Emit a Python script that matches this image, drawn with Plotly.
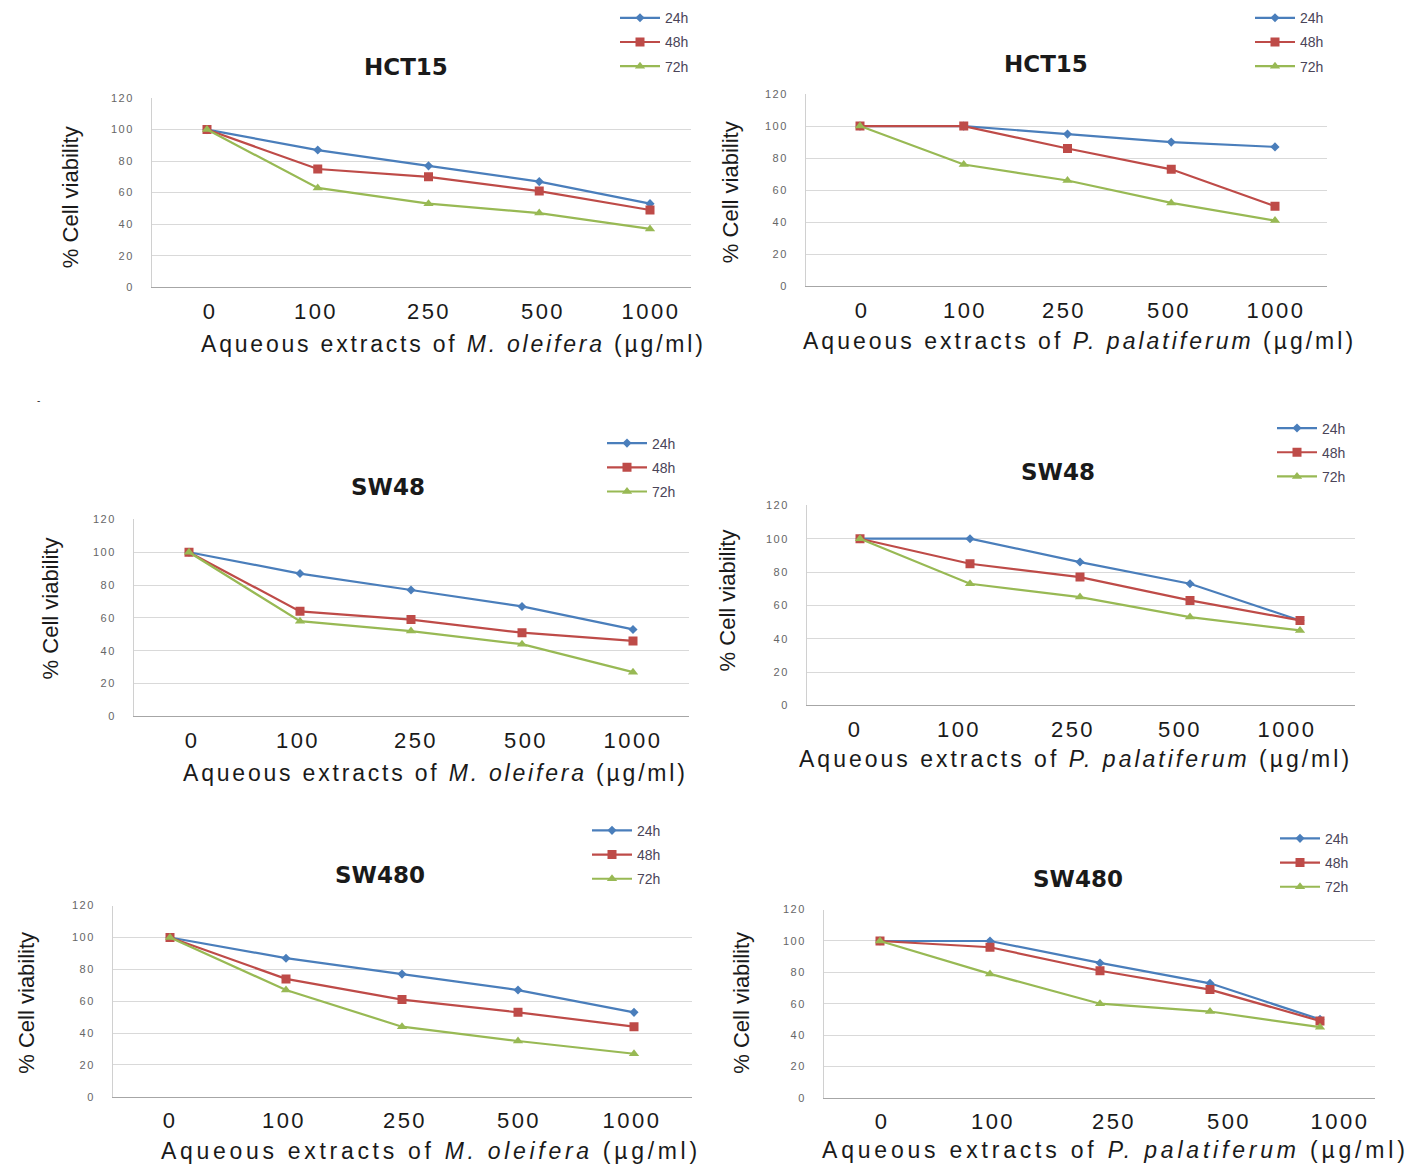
import plotly.graph_objects as go

W, H = 1413, 1164

# ---------------- data ----------------
doses = ["0", "100", "250", "500", "1000"]
series_names = ["24h", "48h", "72h"]
y_ticks = [0, 20, 40, 60, 80, 100, 120]

hct15_mo_24 = [100, 87, 77, 67, 53]
hct15_mo_48 = [100, 75, 70, 61, 49]
hct15_mo_72 = [100, 63, 53, 47, 37]

hct15_pp_24 = [100, 100, 95, 90, 87]
hct15_pp_48 = [100, 100, 86, 73, 50]
hct15_pp_72 = [100, 76, 66, 52, 41]

sw48_mo_24 = [100, 87, 77, 67, 53]
sw48_mo_48 = [100, 64, 59, 51, 46]
sw48_mo_72 = [100, 58, 52, 44, 27]

sw48_pp_24 = [100, 100, 86, 73, 51]
sw48_pp_48 = [100, 85, 77, 63, 51]
sw48_pp_72 = [100, 73, 65, 53, 45]

sw480_mo_24 = [100, 87, 77, 67, 53]
sw480_mo_48 = [100, 74, 61, 53, 44]
sw480_mo_72 = [100, 67, 44, 35, 27]

sw480_pp_24 = [100, 100, 86, 73, 50]
sw480_pp_48 = [100, 96, 81, 69, 49]
sw480_pp_72 = [100, 79, 60, 55, 45]

titles = ["HCT15", "HCT15", "SW48", "SW48", "SW480", "SW480"]
extract_titles = [
    "Aqueous extracts of <i>M. oleifera</i> (µg/ml)",
    "Aqueous extracts of <i>P. palatiferum</i> (µg/ml)",
    "Aqueous extracts of <i>M. oleifera</i> (µg/ml)",
    "Aqueous extracts of <i>P. palatiferum</i> (µg/ml)",
    "Aqueous extracts of <i>M. oleifera</i> (µg/ml)",
    "Aqueous extracts of <i>P. palatiferum</i> (µg/ml)",
]
panel_series = [
    (hct15_mo_24, hct15_mo_48, hct15_mo_72),
    (hct15_pp_24, hct15_pp_48, hct15_pp_72),
    (sw48_mo_24, sw48_mo_48, sw48_mo_72),
    (sw48_pp_24, sw48_pp_48, sw48_pp_72),
    (sw480_mo_24, sw480_mo_48, sw480_mo_72),
    (sw480_pp_24, sw480_pp_48, sw480_pp_72),
]

# ---------------- styles / layout geometry (pixels) ----------------
colors = ["#4A7EBB", "#BE4B48", "#98B954"]
symbols = ["diamond", "square", "triangle-up"]
msizes = [7, 9, 9]

# l/r/t/b: plot box; x0/dx: first category centre and step; tk: tick-label centres;
# tt: title centre; xt: x-title centre; xs: x-title letter spacing; yt: y-title centre;
# lg: legend line start / first row
geom = [
    dict(l=152, r=691, t=98, b=287, x0=207, dx=110.75, tk=[210, 316, 429, 543, 651],
         tt=(406, 67), xt=(453, 344), xs=2.8, yt=(70, 197), lg=(620, 19)),
    dict(l=806, r=1327, t=94, b=286, x0=860, dx=103.75, tk=[862, 965, 1064, 1169, 1276],
         tt=(1046, 64), xt=(1079, 341), xs=3.0, yt=(730, 192), lg=(1255, 19)),
    dict(l=134, r=689, t=519, b=716, x0=189, dx=111, tk=[192, 298, 416, 526, 633],
         tt=(388, 487), xt=(435, 772), xs=2.8, yt=(50, 608), lg=(607, 444)),
    dict(l=807, r=1355, t=505, b=705, x0=860, dx=110, tk=[855, 959, 1073, 1180, 1287],
         tt=(1058, 472), xt=(1075, 758), xs=3.0, yt=(727, 600), lg=(1277, 429)),
    dict(l=113, r=692, t=905, b=1096, x0=170, dx=116, tk=[170, 284, 405, 519, 632],
         tt=(380, 874), xt=(431, 1150), xs=3.7, yt=(27, 1002), lg=(592, 831)),
    dict(l=824, r=1375, t=909, b=1097, x0=880, dx=110, tk=[882, 993, 1114, 1229, 1340],
         tt=(1078, 878), xt=(1115, 1149), xs=3.8, yt=(742, 1002), lg=(1280, 839)),
]


def X(px):
    return px / W


def Y(py):
    # vertical placement correction measured on the rendered page
    return 1 - ((py - 6) / 0.989) / H


def spaced(txt, sp):
    return f'<span style="letter-spacing:{sp}px">{txt}</span>'


SANS = "Liberation Sans, Arial, sans-serif"

fig = go.Figure()
annotations = []
layout_upd = {}

for i, (g, data) in enumerate(zip(geom, panel_series), start=1):
    sfx = "" if i == 1 else str(i)
    for k, (name, vals) in enumerate(zip(series_names, data)):
        fig.add_trace(go.Scatter(
            x=doses, y=vals, name=name, mode="lines+markers",
            line=dict(color=colors[k], width=2.2),
            marker=dict(symbol=symbols[k], size=msizes[k], color=colors[k]),
            xaxis="x" + sfx, yaxis="y" + sfx,
            legend="legend" + sfx, legendgroup=f"p{i}_{name}",
        ))
    layout_upd["xaxis" + sfx] = dict(
        domain=[X(g["l"]), X(g["r"])], anchor="y" + sfx, type="category",
        categoryorder="array", categoryarray=doses,
        range=[(g["l"] - g["x0"]) / g["dx"], (g["r"] - g["x0"]) / g["dx"]],
        showgrid=False, showline=True, linecolor="#a6a6a6", linewidth=1,
        ticks="", ticklabelstandoff=4, zeroline=False,
        tickmode="array",
        tickvals=[(p - g["x0"]) / g["dx"] + 1e-6 for p in g["tk"]],
        ticktext=[spaced(d, 2.5) for d in doses],
        tickfont=dict(family=SANS, size=22, color="#1a1a1a"),
    )
    layout_upd["yaxis" + sfx] = dict(
        domain=[Y(g["b"]), Y(g["t"])], anchor="x" + sfx,
        range=[0, 120], tickvals=y_ticks, ticktext=[spaced(v, 1.5) for v in y_ticks],
        showgrid=True, gridcolor="#d9d9d9",
        gridwidth=1, showline=True, linecolor="#d0d0d0", zeroline=False,
        ticks="", ticklabelstandoff=15,
        tickfont=dict(family=SANS, size=11, color="#666666"),
    )
    layout_upd["legend" + sfx] = dict(
        x=X(g["lg"][0] - 5), y=Y(g["lg"][1]) + 17 / H,
        xanchor="left", yanchor="top", bgcolor="rgba(0,0,0,0)",
        font=dict(family=SANS, size=14, color="#4a4458"),
        tracegroupgap=3, itemwidth=40, itemclick=False,
    )
    annotations.append(dict(
        text="<b>" + titles[i - 1] + "</b>", x=X(g["tt"][0]), y=Y(g["tt"][1]),
        xref="paper", yref="paper", showarrow=False, xanchor="center", yanchor="middle",
        font=dict(family="DejaVu Sans, Verdana, sans-serif", size=23, color="#1a1a1a"),
    ))
    annotations.append(dict(
        text=spaced(extract_titles[i - 1], g["xs"]), x=X(g["xt"][0]), y=Y(g["xt"][1]),
        xref="paper", yref="paper", showarrow=False, xanchor="center", yanchor="middle",
        font=dict(family=SANS, size=23, color="#1a1a1a"),
    ))
    annotations.append(dict(
        text="% Cell viability", x=X(g["yt"][0]), y=Y(g["yt"][1]),
        xref="paper", yref="paper", showarrow=False, xanchor="center", yanchor="middle",
        textangle=-90, font=dict(family=SANS, size=22, color="#1a1a1a"),
    ))

annotations.append(dict(text="-", x=X(35), y=Y(400), xref="paper", yref="paper",
                        showarrow=False, font=dict(family=SANS, size=10, color="#333")))

fig.update_layout(
    width=W, height=H, autosize=False,
    margin=dict(l=0, r=0, t=0, b=0),
    paper_bgcolor="white", plot_bgcolor="white",
    showlegend=True, annotations=annotations,
    **layout_upd,
)

fig.write_html("out.html", config={"displayModeBar": False},
               post_script="document.body.style.margin='0';")
